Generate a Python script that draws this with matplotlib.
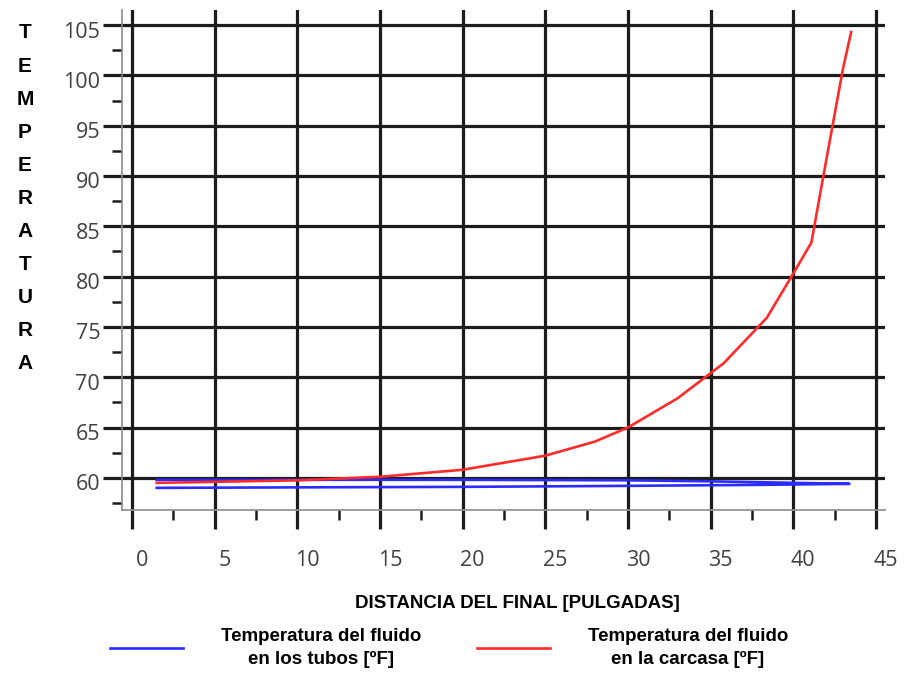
import matplotlib.pyplot as plt
from matplotlib.ticker import MultipleLocator
from matplotlib.transforms import ScaledTranslation

# tube side: goes out along the lower curve and comes back along the upper one
tubos_x = [1.5, 10, 20, 30, 38, 43.4, 40, 35, 30, 20, 10, 1.5]
tubos_y = [59.0, 59.05, 59.1, 59.2, 59.3, 59.4, 59.5, 59.65, 59.75, 59.8, 59.8, 59.8]

carcasa_x = [1.5, 5, 10, 15, 20, 25, 28, 30, 33, 35.8, 38.4, 40, 41.1, 41.8, 42.4, 43.0, 43.5]
carcasa_y = [59.5, 59.6, 59.75, 60.1, 60.8, 62.2, 63.6, 65.0, 67.9, 71.4, 75.9, 80.3, 83.4, 89.8, 95.2, 100.6, 104.3]

lbl_tubos = 'Temperatura del fluido\nen los tubos [ºF]'
lbl_carcasa = 'Temperatura del fluido\nen la carcasa [ºF]'
ylabel = 'TEMPERATURA'
xlabel = 'DISTANCIA DEL FINAL [PULGADAS]'

fig = plt.figure(figsize=(9.05, 6.75), dpi=100)
ax = fig.add_axes([122/905, 1-510/675, (885-122)/905, 500/675])

l1, = ax.plot(tubos_x, tubos_y, color='#2b2bff', lw=1.9, zorder=3)
l2, = ax.plot(carcasa_x, carcasa_y, color='#ff2a2a', lw=1.9, zorder=4)

ax.set_xlim(-0.6, 45.55)
ax.set_ylim(56.8, 106.5)
ax.xaxis.set_major_locator(MultipleLocator(5))
ax.xaxis.set_minor_locator(MultipleLocator(2.5))
ax.set_yticks(range(60, 106, 5))
ax.yaxis.set_minor_locator(MultipleLocator(2.5))

gridc = '#1c1c1c'
ax.grid(True, which='major', color=gridc, lw=2.3)
ax.set_axisbelow(True)
for s in ['top', 'right']:
    ax.spines[s].set_visible(False)
for s in ['left', 'bottom']:
    ax.spines[s].set_color('#8c8c8c')
    ax.spines[s].set_linewidth(1.2)

ax.tick_params(which='major', direction='out', length=13.7, width=2.3, color=gridc,
               labelsize=15.5, labelcolor='#404040')
ax.tick_params(axis='x', which='major', pad=15)
ax.tick_params(axis='y', which='major', pad=2)
ax.tick_params(which='minor', direction='out', length=7, width=1.8, color=gridc)
for t in ax.get_xticklabels() + ax.get_yticklabels():
    t.set_fontfamily('Open Sans')
for t in ax.get_xticklabels():
    t.set_transform(t.get_transform() + ScaledTranslation(0.1, 0, fig.dpi_scale_trans))
for t in ax.get_yticklabels():
    t.set_transform(t.get_transform() + ScaledTranslation(0, -0.045, fig.dpi_scale_trans))

# stacked vertical axis title
for i, ch in enumerate(ylabel):
    fig.text(25/905, 1-(33+33.1*i)/675, ch, ha='center', va='center',
             fontsize=15, fontweight='bold', family='Liberation Sans')

fig.text(517/905, 1-604/675, xlabel, ha='center', va='center',
         fontsize=13.5, fontweight='bold', family='Liberation Sans')

leg = fig.legend([l1, l2], [lbl_tubos, lbl_carcasa], loc='center',
                 bbox_to_anchor=(449/905, 1-648/675), ncol=2, frameon=False,
                 handlelength=3.9, handletextpad=2.0, columnspacing=3.0,
                 prop={'family': 'Liberation Sans', 'weight': 'bold', 'size': 13.5})
for t in leg.get_texts():
    t.set_multialignment('center')
    t.set_linespacing(1.45)

fig.savefig('out.png', dpi=100)
